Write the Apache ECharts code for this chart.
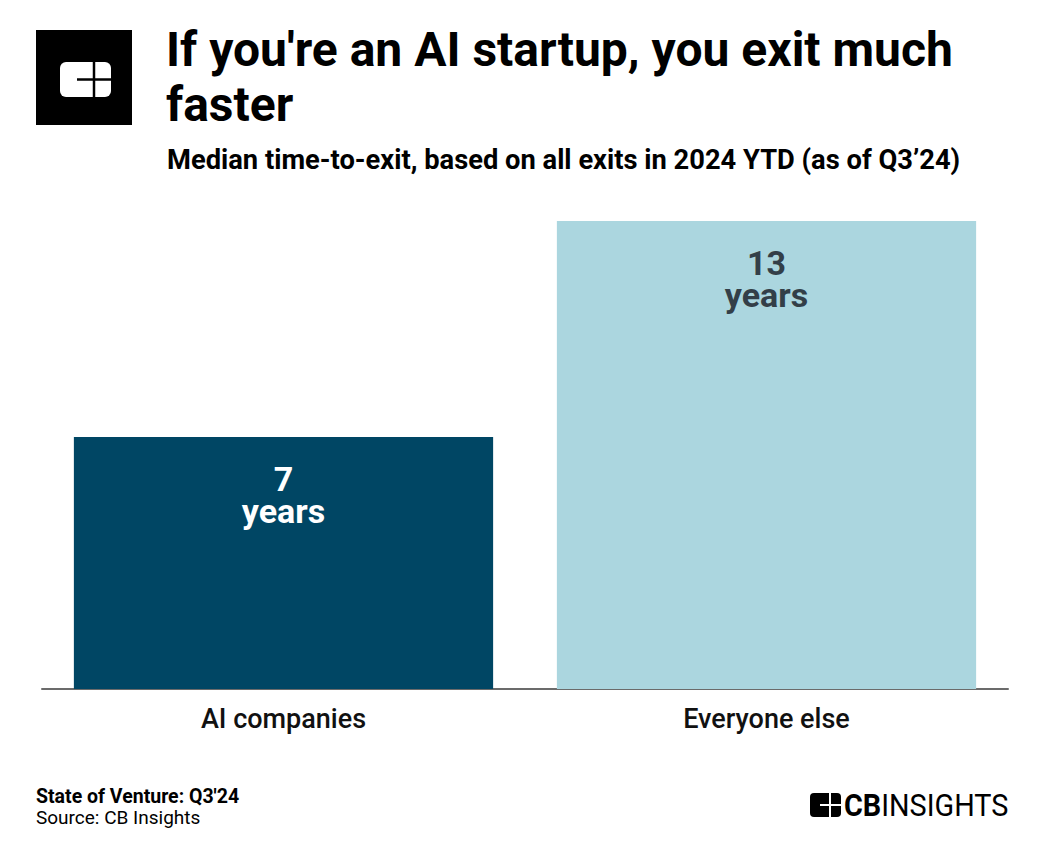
<!DOCTYPE html>
<html><head><meta charset="utf-8">
<script src="https://cdn.jsdelivr.net/npm/echarts@6/dist/echarts.min.js"></script>
<style>html,body{margin:0;padding:0;background:#fff}#c{width:1040px;height:848px}</style>
</head><body><div id="c"></div>
<script>
const categories = ['AI companies', 'Everyone else'];
const values = [7, 13];
const valueUnit = 'years';
const barColors = ['#004664', '#abd6df'];
const labelColors = ['#ffffff', '#333f48'];
const titleText = "If you're an AI startup, you exit much\nfaster";
const subtitleText = 'Median time-to-exit, based on all exits in 2024 YTD (as of Q3\u201924)';
const footerTitle = "State of Venture: Q3'24";
const footerSource = 'Source: CB Insights';

const chart = echarts.init(document.getElementById('c'), null, {renderer: 'svg'});
const F = 'Roboto, "Noto Sans", sans-serif';
chart.setOption({
  animation: false,
  grid: {left: 42, right: 32, top: 221, bottom: 159},
  xAxis: {
    type: 'category', data: categories,
    axisLine: {lineStyle: {color: '#6b6b6b', width: 2}},
    axisTick: {show: false},
    axisLabel: {color: '#111', fontFamily: F, fontWeight: 500, fontSize: 27, margin: 16}
  },
  yAxis: {type: 'value', min: 0, max: 13, show: false, splitLine: {show: false}},
  series: [{
    type: 'bar', barWidth: '86.8%',
    data: values.map((v, i) => ({value: v, itemStyle: {color: barColors[i]},
      label: {color: labelColors[i]}})),
    label: {show: true, position: 'insideTop', distance: 26,
      fontFamily: F, fontWeight: 'bold', fontSize: 34, lineHeight: 32, align: 'center',
      formatter: p => p.value + '\n' + valueUnit}
  }],
  graphic: [
    {type: 'rect', shape: {x: 36, y: 30, width: 96, height: 95}, style: {fill: '#000'}},
    {type: 'rect', shape: {x: 60, y: 62, width: 51, height: 35, r: 6}, style: {fill: '#fff'}},
    {type: 'line', shape: {x1: 94, y1: 62, x2: 94, y2: 97}, style: {stroke: '#000', lineWidth: 2.5}},
    {type: 'line', shape: {x1: 77, y1: 79.5, x2: 111, y2: 79.5}, style: {stroke: '#000', lineWidth: 2.5}},
    {type: 'text', left: 166, top: 22, style: {text: titleText, fill: '#000',
      font: 'bold 48px ' + F, lineHeight: 55}},
    {type: 'text', left: 167, top: 146, style: {text: subtitleText, fill: '#000',
      font: 'bold 27.3px ' + F}},
    {type: 'text', left: 36, top: 786, style: {
      text: '{b|' + footerTitle + '}\n{r|' + footerSource + '}',
      rich: {b: {font: 'bold 19.5px ' + F, fill: '#000', lineHeight: 21},
             r: {font: '19px ' + F, fill: '#000', lineHeight: 21}}}},
    {type: 'rect', shape: {x: 810, y: 793, width: 31, height: 24, r: 4}, style: {fill: '#000'}},
    {type: 'line', shape: {x1: 830, y1: 793, x2: 830, y2: 817}, style: {stroke: '#fff', lineWidth: 2}},
    {type: 'line', shape: {x1: 820, y1: 805, x2: 841, y2: 805}, style: {stroke: '#fff', lineWidth: 2}},
    {type: 'text', x: 844, y: 805, scaleX: 0.9, originX: 0, originY: 0,
      style: {text: '{b|CB}{r|INSIGHTS}', x: 0, y: 0, verticalAlign: 'middle',
        rich: {b: {font: 'bold 32px ' + F, fill: '#000'}, r: {font: '32px ' + F, fill: '#000'}}}}
  ]
});
</script></body></html>
